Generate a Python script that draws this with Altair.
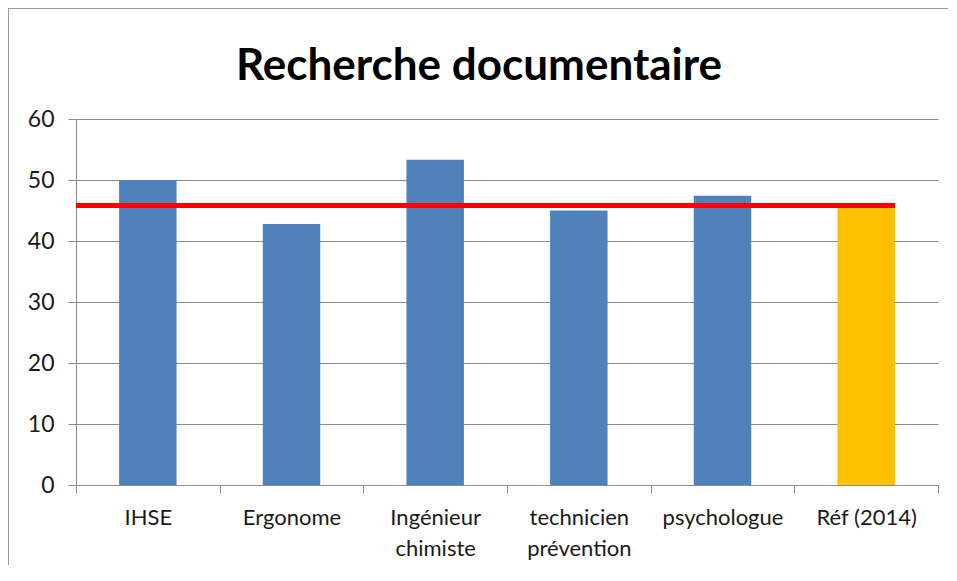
import altair as alt
import pandas as pd

categories = ["IHSE", "Ergonome", "Ingénieur chimiste", "technicien prévention", "psychologue", "Réf (2014)"]
label_lines = [["IHSE"], ["Ergonome"], ["Ingénieur", "chimiste"], ["technicien", "prévention"], ["psychologue"], ["Réf (2014)"]]
values = [50.0, 42.8, 53.3, 45.0, 47.4, 45.8]
bar_colors = ["#4F81BD", "#4F81BD", "#4F81BD", "#4F81BD", "#4F81BD", "#FFC000"]
ref_value = 45.8
y_ticks = [0, 10, 20, 30, 40, 50, 60]
title_text = "Recherche documentaire"

df = pd.DataFrame({"cat": categories, "val": values, "color": bar_colors})

# label expression building multi-line labels
parts = []
for c, lines in zip(categories, label_lines):
    arr = "[" + ",".join("'" + l + "'" for l in lines) + "]"
    parts.append(f"datum.label == '{c}' ? {arr} : ")
label_expr = "".join(parts) + "datum.label"

FONT = "Lato"
GRAY = "#8C8C8C"

x_enc = alt.X(
    "cat:N",
    sort=categories,
    title=None,
    scale=alt.Scale(paddingInner=0, paddingOuter=0),
    axis=alt.Axis(
        labelAngle=0,
        labelExpr=label_expr,
        tickBand="extent",
        tickSize=8,
        tickColor=GRAY,
        domainColor=GRAY,
        labelFont=FONT,
        labelFontSize=22,
        labelColor="#1A1A1A",
        labelPadding=14,
        labelLineHeight=31,
        grid=False,
    ),
)

y_enc = alt.Y(
    "val:Q",
    title=None,
    scale=alt.Scale(domain=[0, 60], nice=False),
    axis=alt.Axis(
        values=y_ticks,
        tickSize=8,
        tickColor=GRAY,
        domainColor=GRAY,
        gridColor=GRAY,
        gridWidth=1,
        labelFont=FONT,
        labelFontSize=23,
        labelColor="#1A1A1A",
        labelPadding=14,
    ),
)

bars = alt.Chart(df).mark_bar(width={"band": 0.4}).encode(
    x=x_enc,
    y=y_enc,
    color=alt.Color("color:N", scale=None, legend=None),
)

ref_line = alt.Chart(df).mark_rule(color="#FF0000", strokeWidth=5).encode(
    x=alt.datum(categories[0], bandPosition=0),
    x2=alt.datum(categories[-1], bandPosition=0.7),
    y=alt.datum(ref_value),
)

frame = alt.Chart(df).mark_rect(fill=None, stroke="#868686", strokeWidth=2.5).encode(
    x=alt.value(-69), x2=alt.value(900), y=alt.value(-112), y2=alt.value(520)
)

chart = alt.layer(bars, ref_line, frame).properties(
    width=862,
    height=366,
    title=alt.TitleParams(
        title_text,
        font=FONT,
        fontSize=44,
        fontWeight="bold",
        color="#000000",
        anchor="middle",
        baseline="alphabetic",
        dx=-28,
        dy=118,
        offset=0,
    ),
    autosize=alt.AutoSizeParams(type="none"),
    padding={"left": 68, "top": 111, "right": 10, "bottom": 80},
).configure_view(stroke=None)

chart.save("out.html", embed_options={"renderer": "svg", "actions": False})
